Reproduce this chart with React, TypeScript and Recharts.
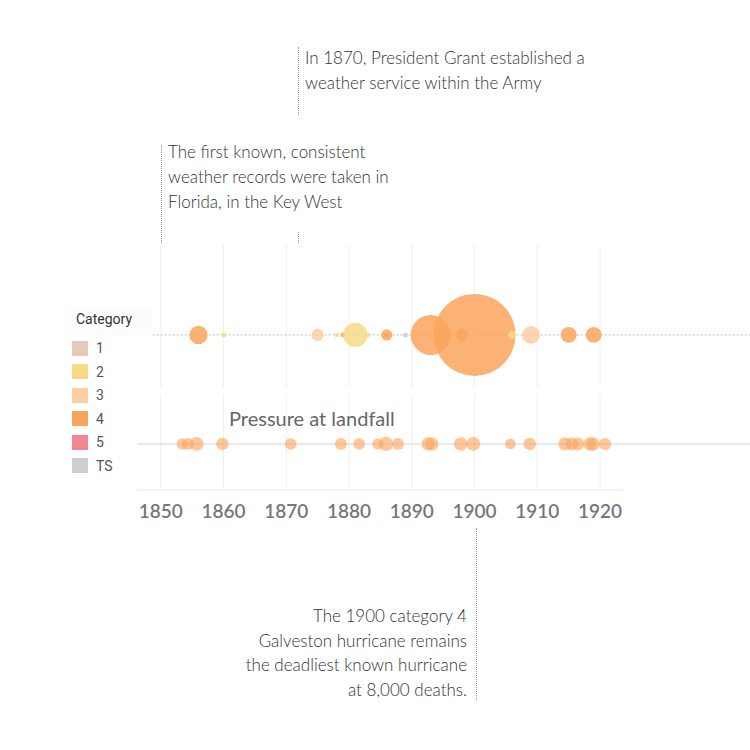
import React from "react";
import {
  ScatterChart,
  Scatter,
  XAxis,
  YAxis,
  ZAxis,
  ReferenceLine,
  Cell,
} from "recharts";

// deadliest hurricanes by year (bubble size = deaths)
const deathYears = [1856, 1860, 1875, 1878, 1879, 1881, 1883, 1886, 1886, 1889, 1893, 1898, 1900, 1906, 1909, 1915, 1919];
const deathCounts = [400, 30, 176, 25, 25, 700, 25, 150, 25, 30, 1900, 179, 8000, 70, 371, 300, 300];
const deathCats = ["4", "2", "3", "2", "4", "2", "2", "4", "4", "TS", "4", "4", "4", "2", "3", "4", "4"];

// pressure at landfall row
const pressureYears = [1853.4, 1854.3, 1855.7, 1859.8, 1870.7, 1878.7, 1881.6, 1884.6, 1885.9, 1887.8, 1892.6, 1893.2, 1897.8, 1899.8, 1905.7, 1908.8, 1914.4, 1915.5, 1916.5, 1918.4, 1918.9, 1920.8];
const pressureValues = [968, 962, 935, 955, 965, 962, 965, 968, 931, 962, 945, 944, 940, 936, 975, 955, 945, 948, 952, 944, 942, 960];

const categories = ["1", "2", "3", "4", "5", "TS"];
const categoryColors = ["#e8c8bc", "#f8da86", "#fccfa3", "#fba55c", "#f6858e", "#d3cccd"];
const yearTicks = [1850, 1860, 1870, 1880, 1890, 1900, 1910, 1920];

const ROW_DEATHS = 6.33;
const ROW_PRESSURE = 1.88;

const colorOf = (cat: string) => categoryColors[categories.indexOf(cat)];

const deathData = deathYears.map((year, i) => ({
  year,
  row: ROW_DEATHS,
  deaths: deathCounts[i],
  cat: deathCats[i],
}));
const pressureData = pressureYears.map((year, i) => ({
  year,
  row: ROW_PRESSURE,
  pressure: pressureValues[i],
}));

const textFont = "Lato, 'Open Sans', sans-serif";

export default function App() {
  return (
    <div
      style={{
        position: "absolute",
        left: 0,
        top: 0,
        width: 750,
        height: 750,
        background: "#fff",
        fontFamily: textFont,
      }}
    >
      <ScatterChart width={750} height={750} margin={{ top: 245, right: 0, bottom: 230, left: 137 }}>
        <XAxis
          type="number"
          dataKey="year"
          domain={[1846.2, 1943.9]}
          ticks={yearTicks}
          interval={0}
          axisLine={false}
          tickLine={false}
          tickMargin={9}
          tick={{ fill: "#777", fontSize: 19, fontWeight: 600, fontFamily: textFont }}
        />
        <YAxis type="number" dataKey="row" domain={[0, 10]} hide />
        <ZAxis zAxisId="deaths" type="number" dataKey="deaths" domain={[0, 8000]} range={[0, Math.PI * 41 * 41]} />
        <ZAxis zAxisId="pressure" type="number" dataKey="pressure" domain={[920, 1000]} range={[Math.PI * 7.5 * 7.5, Math.PI * 4 * 4]} />

        {yearTicks.map((t) => (
          <ReferenceLine key={"a" + t} segment={[{ x: t, y: 10 }, { x: t, y: 4.2 }]} stroke="#efefef" />
        ))}
        {yearTicks.map((t) => (
          <ReferenceLine key={"b" + t} segment={[{ x: t, y: 3.9 }, { x: t, y: 0 }]} stroke="#efefef" />
        ))}
        <ReferenceLine segment={[{ x: 1848.7, y: ROW_DEATHS }, { x: 1943.9, y: ROW_DEATHS }]} stroke="#bbb" strokeDasharray="2 2" />
        <ReferenceLine segment={[{ x: 1846.2, y: ROW_PRESSURE }, { x: 1943.9, y: ROW_PRESSURE }]} stroke="#d4d4d4" />
        <ReferenceLine segment={[{ x: 1846.2, y: 0 }, { x: 1923.7, y: 0 }]} stroke="#e6e6e6" />

        <Scatter data={deathData} zAxisId="deaths" fillOpacity={0.85} isAnimationActive={false}>
          {deathData.map((d, i) => (
            <Cell key={i} fill={colorOf(d.cat)} />
          ))}
        </Scatter>
        <Scatter data={pressureData} zAxisId="pressure" fill="#fba55c" fillOpacity={0.62} isAnimationActive={false} />
      </ScatterChart>

      {/* annotations */}
      <div style={{ position: "absolute", left: 298, top: 47, height: 68, borderLeft: "1px dotted #999" }} />
      <div style={{ position: "absolute", left: 298, top: 232, height: 11, borderLeft: "1px dotted #999" }} />
      <div style={{ position: "absolute", left: 305, top: 45, fontSize: 17, fontWeight: 300, lineHeight: "25px", color: "#333" }}>
        In 1870, President Grant established a
        <br />
        weather service within the Army
      </div>

      <div style={{ position: "absolute", left: 161, top: 145, height: 98, borderLeft: "1px dotted #999" }} />
      <div style={{ position: "absolute", left: 168, top: 139, fontSize: 17, fontWeight: 300, lineHeight: "25px", color: "#333" }}>
        The first known, consistent
        <br />
        weather records were taken in
        <br />
        Florida, in the Key West
      </div>

      <div style={{ position: "absolute", left: 476, top: 528, height: 172, borderLeft: "1px dotted #999" }} />
      <div
        style={{
          position: "absolute",
          right: 750 - 467,
          top: 604,
          fontSize: 17,
          fontWeight: 300,
          lineHeight: "24.5px",
          color: "#333",
          textAlign: "right",
          whiteSpace: "nowrap",
        }}
      >
        The 1900 category 4
        <br />
        Galveston hurricane remains
        <br />
        the deadliest known hurricane
        <br />
        at 8,000 deaths.
      </div>

      <div style={{ position: "absolute", left: 229, top: 406, fontSize: 20, color: "#666", lineHeight: "24px" }}>
        Pressure at landfall
      </div>

      {/* legend */}
      <div style={{ position: "absolute", left: 65, top: 308, width: 87, height: 27, background: "#fcfcfc" }} />
      <div style={{ position: "absolute", left: 76, top: 311, fontSize: 14, color: "#333", fontFamily: "Roboto, sans-serif" }}>
        Category
      </div>
      {categories.map((c, i) => (
        <div key={c} style={{ position: "absolute", left: 72, top: 340 + i * 23.5, display: "flex", alignItems: "center" }}>
          <div style={{ width: 16, height: 15, background: categoryColors[i] }} />
          <span style={{ marginLeft: 8, fontSize: 14, color: "#555", fontFamily: "Roboto, sans-serif" }}>{c}</span>
        </div>
      ))}
    </div>
  );
}
